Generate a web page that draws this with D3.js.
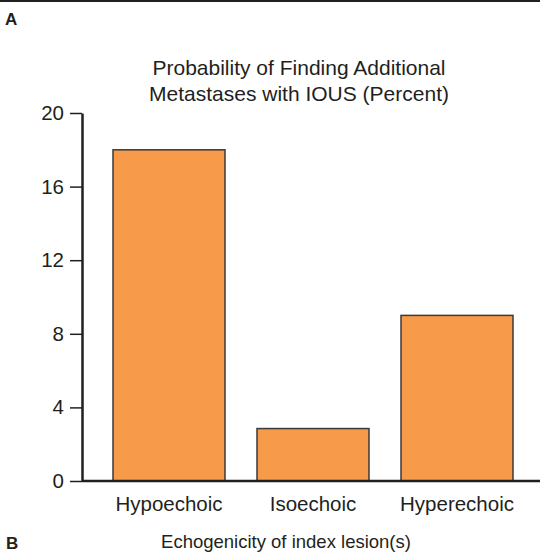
<!DOCTYPE html>
<html><head><meta charset="utf-8">
<script src="https://cdn.jsdelivr.net/npm/d3@7"></script>
<style>body{margin:0;background:#fff}svg{display:block}text{font-family:"Liberation Sans",Arial,sans-serif;fill:#231f20}</style>
</head><body>
<script>
const categories = ["Hypoechoic", "Isoechoic", "Hyperechoic"];
const values = [18, 2.85, 9];
const yTicks = [0, 4, 8, 12, 16, 20];
const titleLines = ["Probability of Finding Additional", "Metastases with IOUS (Percent)"];
const xTitle = "Echogenicity of index lesion(s)";

const W = 540, H = 553;
const svg = d3.select("body").append("svg").attr("width", W).attr("height", H);
const ink = "#231f20";

svg.append("line").attr("x1", 0).attr("x2", W).attr("y1", 1).attr("y2", 1)
  .attr("stroke", ink).attr("stroke-width", 2);
svg.append("text").attr("x", 5).attr("y", 25).attr("font-size", 17).attr("font-weight", "bold").text("A");
svg.append("text").attr("x", 6).attr("y", 549).attr("font-size", 17).attr("font-weight", "bold").text("B");

const x = d3.scaleBand().domain(categories).range([81, 545]).paddingInner(0.2222).paddingOuter(0.2222);
const y = d3.scaleLinear().domain([0, 20]).range([481, 113]);

svg.selectAll("rect.bar").data(values).join("rect").attr("class", "bar")
  .attr("x", (d, i) => x(categories[i]))
  .attr("width", x.bandwidth())
  .attr("y", d => y(d))
  .attr("height", d => y(0) - y(d))
  .attr("fill", "#f79a4a").attr("stroke", "#3a3a3a").attr("stroke-width", 1.5);

svg.append("line").attr("x1", 82).attr("x2", W).attr("y1", y(0)).attr("y2", y(0))
  .attr("stroke", ink).attr("stroke-width", 2.5);

const yAxis = d3.axisLeft(y).tickValues(yTicks).tickSize(12).tickPadding(6).tickSizeOuter(0);
const gy = svg.append("g").attr("transform", "translate(82,0)").call(yAxis);
gy.select(".domain").attr("stroke", ink).attr("stroke-width", 2.5);
gy.selectAll(".tick line").attr("stroke", ink).attr("stroke-width", 1.5);
gy.selectAll(".tick text").attr("font-size", 20.5).attr("font-family", null).attr("fill", ink);

const gx = svg.append("g").attr("transform", `translate(0,${y(0)})`)
  .call(d3.axisBottom(x).tickSize(0).tickPadding(15));
gx.select(".domain").remove();
gx.selectAll(".tick text").attr("font-size", 20.5).attr("font-family", null).attr("fill", ink);

svg.append("text").attr("text-anchor", "middle").attr("font-size", 21)
  .selectAll("tspan").data(titleLines).join("tspan")
  .attr("x", 299).attr("y", (d, i) => 75 + i * 26).text(d => d);

svg.append("text").attr("x", 286).attr("y", 548).attr("text-anchor", "middle").attr("font-size", 18.5).text(xTitle);
</script>
</body></html>
